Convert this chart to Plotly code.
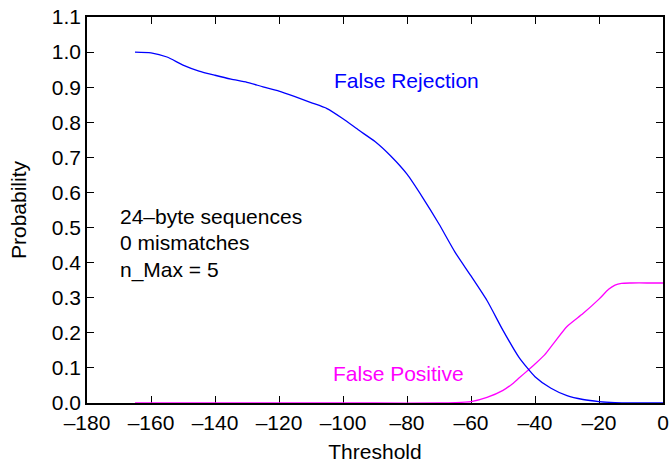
import plotly.graph_objects as go

# Data
fr_threshold = [-165, -160, -155, -150, -145, -140, -135, -130, -125, -120, -115, -110,
                -105, -100, -95, -90, -85, -80, -75, -70, -65, -60, -55, -50, -45,
                -40, -35, -30, -25, -20, -15, -10, -5, 0]
fr_prob = [1.0, 0.998, 0.986, 0.963, 0.946, 0.934, 0.923, 0.914, 0.901, 0.889, 0.873, 0.856,
           0.839, 0.810, 0.777, 0.745, 0.703, 0.652, 0.584, 0.510, 0.430, 0.362, 0.292, 0.207, 0.130,
           0.075, 0.042, 0.021, 0.010, 0.004, 0.001, 0.0, 0.0, 0.0]

fp_threshold = [-165, -150, -130, -110, -90, -70, -65, -60, -55, -50, -47, -45, -42, -40,
                -37, -34, -30, -25, -20, -17, -15, -13, -10, -5, 0]
fp_prob = [0.0, 0.0, 0.0, 0.0, 0.0, 0.0, 0.001, 0.004, 0.016, 0.036, 0.055, 0.071, 0.095, 0.111,
           0.137, 0.172, 0.218, 0.255, 0.296, 0.324, 0.336, 0.341, 0.342, 0.342, 0.342]

x_tickvals = [-180, -160, -140, -120, -100, -80, -60, -40, -20, 0]
x_ticktext = ["–180", "–160", "–140", "–120", "–100", "–80", "–60", "–40", "–20", "0"]
y_tickvals = [0.0, 0.1, 0.2, 0.3, 0.4, 0.5, 0.6, 0.7, 0.8, 0.9, 1.0, 1.1]

info_lines = ["24–byte sequences", "0 mismatches", "n_Max = 5"]
info_y = [0.532, 0.456, 0.380]

FONT = "Liberation Sans, Arial, sans-serif"
FS = 21

fig = go.Figure()
fig.add_trace(go.Scatter(x=fp_threshold, y=fp_prob, mode="lines",
                         line=dict(color="#ff00ff", width=1.3, shape="spline", smoothing=0.6),
                         cliponaxis=False, showlegend=False))
fig.add_trace(go.Scatter(x=fr_threshold, y=fr_prob, mode="lines",
                         line=dict(color="#0000ff", width=1.3, shape="spline", smoothing=0.6),
                         cliponaxis=False, showlegend=False))

annotations = [
    dict(x=-80.1, y=0.92, text="False Rejection", font=dict(color="#0000ff", size=FS, family=FONT)),
    dict(x=-82.8, y=0.085, text="False Positive", font=dict(color="#ff00ff", size=FS, family=FONT)),
]
for t, yy in zip(info_lines, info_y):
    annotations.append(dict(x=-170.3, y=yy, text=t, xanchor="left",
                            font=dict(color="black", size=FS, family=FONT)))
for a in annotations:
    a.setdefault("xanchor", "center")
    a.update(xref="x", yref="y", showarrow=False, yanchor="middle")

fig.update_layout(
    width=670, height=464,
    margin=dict(l=87, r=7, t=17, b=61, autoexpand=False),
    paper_bgcolor="white", plot_bgcolor="white",
    font=dict(family=FONT, size=FS, color="black"),
    annotations=annotations,
    xaxis=dict(range=[-180, 0], tickvals=x_tickvals, ticktext=x_ticktext,
               ticks="inside", ticklen=7, tickwidth=1, tickcolor="black",
               showline=True, linecolor="black", linewidth=1.5, mirror="ticks",
               showgrid=False, zeroline=False, layer="below traces", automargin=False,
               title=dict(text="Threshold", standoff=11, font=dict(size=FS))),
    yaxis=dict(range=[0, 1.1], tickvals=y_tickvals, tickformat=".1f",
               ticks="inside", ticklen=7, tickwidth=1, tickcolor="black",
               showline=True, linecolor="black", linewidth=1.5, mirror="ticks",
               showgrid=False, zeroline=False, layer="below traces", automargin=False,
               title=dict(text="Probability", standoff=19, font=dict(size=FS))),
)

fig.write_html("out.html")
